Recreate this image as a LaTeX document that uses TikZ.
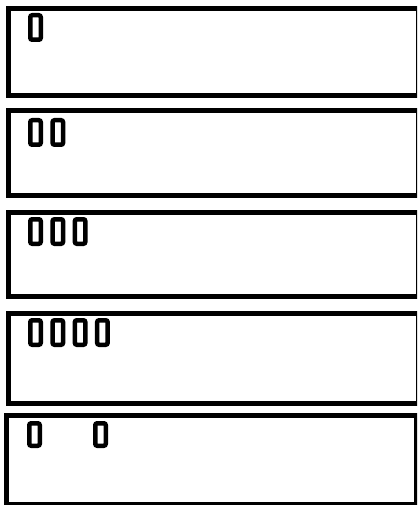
\documentclass[tikz,border=0pt]{standalone}
\begin{document}
\begin{tikzpicture}[x=1pt,y=-1pt,
  panel/.style={draw=black, line width=5pt, inner sep=0pt, outer sep=0pt, anchor=north west},
  tofu/.style={draw=black, line width=4.5pt, rounded corners=2pt, inner sep=0pt, outer sep=0pt,
    minimum width=10.5pt, minimum height=24.5pt}]
\useasboundingbox (0,0) rectangle (417,505);
\clip (0,0) rectangle (417,505);
% panels
\node[panel, minimum width=409.5pt, minimum height=87pt] (p1) at (8.5,8.5) {};
\node[panel, minimum width=409.5pt, minimum height=85pt] (p2) at (8.5,110.5) {};
\node[panel, minimum width=409.5pt, minimum height=84pt] (p3) at (8.5,212) {};
\node[panel, minimum width=409.5pt, minimum height=89.5pt] (p4) at (8.5,313.5) {};
\node[panel, minimum width=410pt, minimum height=88.5pt] (p5) at (6.5,415.8) {};
% glyph boxes
\node[tofu] (t11) at (35.5,27.5) {};
\node[tofu] (t21) at (35.5,132.5) {};
\node[tofu] (t22) at (57.8,132.5) {};
\node[tofu] (t31) at (35.5,231.5) {};
\node[tofu] (t32) at (57.8,231.5) {};
\node[tofu] (t33) at (80.1,231.5) {};
\node[tofu] (t41) at (35.5,332.5) {};
\node[tofu] (t42) at (57.8,332.5) {};
\node[tofu] (t43) at (80.1,332.5) {};
\node[tofu] (t44) at (102.4,332.5) {};
\node[tofu, minimum height=22.5pt] (t51) at (34.5,434.5) {};
\node[tofu, minimum height=22.5pt] (t52) at (100.5,434.5) {};
\end{tikzpicture}
\end{document}
